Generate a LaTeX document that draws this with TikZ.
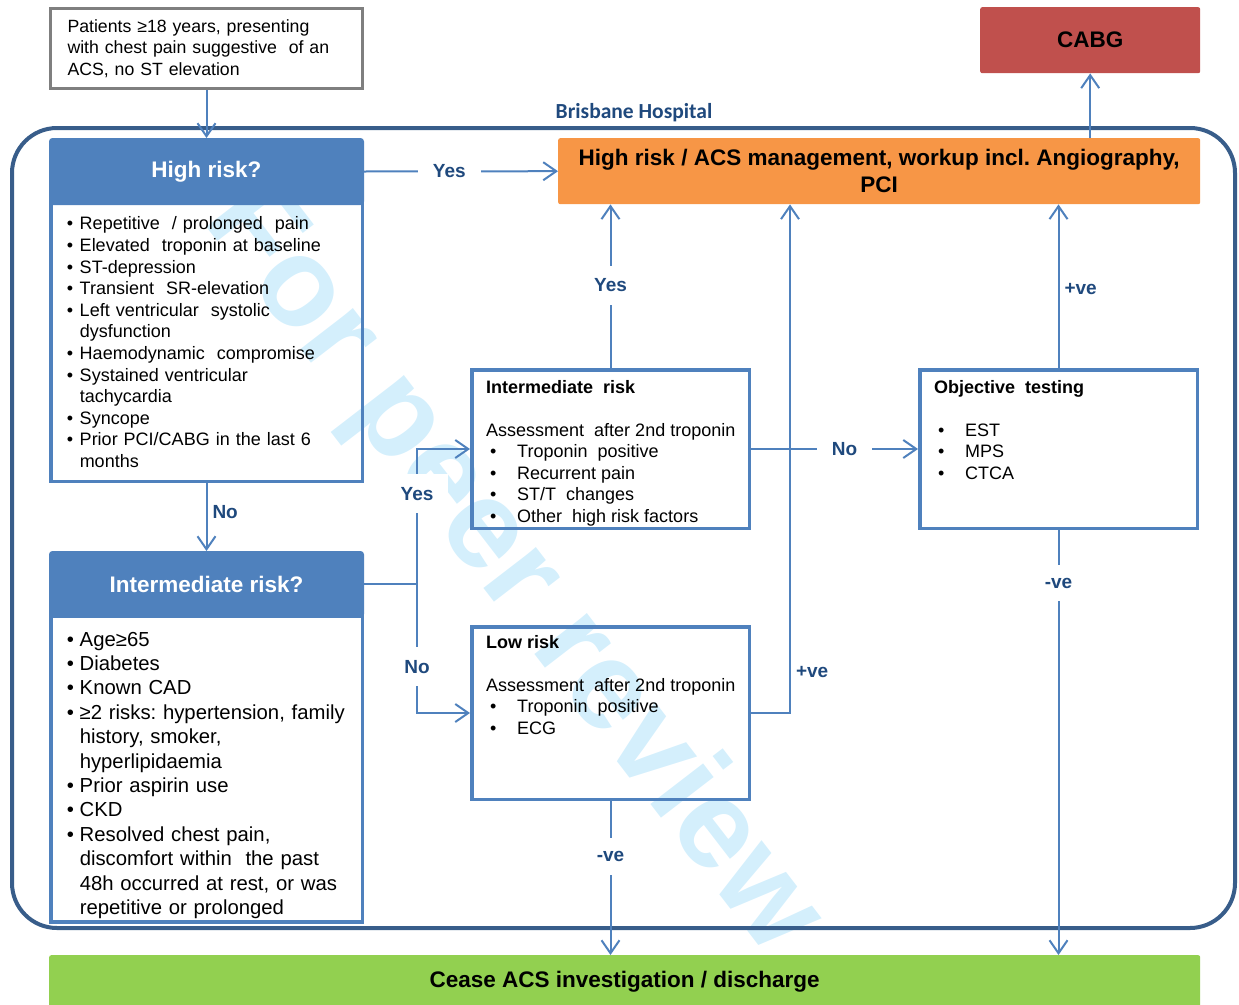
\documentclass[tikz,border=0pt]{standalone}
\usepackage{fontspec}
\setmainfont{Liberation Sans}
\newfontfamily\carlito{Carlito}
\usetikzlibrary{positioning}
\usetikzlibrary{arrows.meta}

\definecolor{hdrblue}{HTML}{4F81BD}
\definecolor{hospblue}{HTML}{385D8A}
\definecolor{lbltext}{HTML}{1F497D}
\definecolor{mgmtorange}{HTML}{F79646}
\definecolor{cabgred}{HTML}{C0504D}
\definecolor{ceasegreen}{HTML}{92D050}
\definecolor{introgray}{HTML}{7F7F7F}
\definecolor{wmcyan}{RGB}{212,239,252}

\newcommand{\itm}{\makebox[13pt][l]{\textbullet}}
\newcommand{\cnt}{\hspace*{13pt}}
\newcommand{\titm}{\makebox[31pt][l]{\hspace{4pt}\textbullet}}

\tikzset{
  conn/.style={draw=hdrblue, line width=2pt},
  arr/.style={conn, -{Straight Barb[length=13pt, width=18pt]}},
  lbl/.style={fill=white, text=lbltext, inner xsep=15pt, inner ysep=13pt,
    font=\bfseries\fontsize{19}{23}\selectfont},
  sidelbl/.style={text=lbltext, inner sep=5pt,
    font=\bfseries\fontsize{19}{23}\selectfont},
  watermark/.style={text=wmcyan, font=\bfseries\fontsize{126}{126}\selectfont},
  hospframe/.style={draw=hospblue, line width=4pt, rounded corners=45pt, anchor=north west},
  hosptitle/.style={text=lbltext, font=\carlito\bfseries\fontsize{21.5}{25}\selectfont},
  introbox/.style={draw=introgray, line width=3pt, anchor=north west, align=left,
    text width=278pt, inner xsep=17pt, minimum height=80pt,
    font=\fontsize{17.7}{21.5}\selectfont},
  header/.style={fill=hdrblue, draw=hdrblue, line width=3.5pt, rounded corners=2pt,
    anchor=north west, minimum width=311.5pt, text=white,
    font=\bfseries\fontsize{22.5}{27}\selectfont},
  listbox/.style={draw=hdrblue, line width=3.5pt, align=left, text width=279.5pt, inner xsep=16pt},
  riskbox/.style={draw=hdrblue, line width=3.5pt, anchor=north west, minimum width=277.5pt},
  boxtext/.style={align=left, anchor=north west, inner sep=0pt,
    font=\fontsize{18}{21.5}\selectfont},
  outbox/.style={anchor=north west, rounded corners=2pt,
    font=\bfseries\fontsize{22.5}{27}\selectfont},
}

\begin{document}
\frenchspacing
\begin{tikzpicture}[x=1pt, y=-1pt]
  \useasboundingbox (0,0) rectangle (1239,1004);

  % watermark, behind everything
  \node[watermark, rotate=-52.4] (wm) at (511,570) {For peer review};

  % hospital frame
  \node[hospframe, minimum width=1223pt, minimum height=800pt] (hosp) at (10,126) {};
  \node[hosptitle] (hosptitle) at (634,113) {Brisbane Hospital};

  \node[introbox] (intro) at (49,7)
    {Patients ≥18 years, presenting\\with chest pain suggestive\ \ of an\\ACS, no ST elevation};

  \node[outbox, fill=cabgred, minimum width=220pt, minimum height=66pt] (cabg) at (980,7) {CABG};
  \node[outbox, fill=mgmtorange, minimum width=642pt, minimum height=66pt, align=center] (mgmt) at (558,138)
    {High risk / ACS management, workup incl. Angiography,\\PCI};
  \node[outbox, fill=ceasegreen, minimum width=1151pt, minimum height=54pt] (cease) at (49,955)
    {Cease ACS investigation / discharge};

  % left column
  \node[header, minimum height=63.5pt] (highq) at (49,138) {High risk?};
  \node[listbox, below=-3.5pt of highq, minimum height=278pt,
    font=\fontsize{18}{21.6}\selectfont] (highlist)
    {\itm Repetitive\ \ / prolonged\ \ pain\\
     \itm Elevated\ \ troponin at baseline\\
     \itm ST-depression\\
     \itm Transient\ \ SR-elevation\\
     \itm Left ventricular\ \ systolic\\
     \cnt dysfunction\\
     \itm Haemodynamic\ \ compromise\\
     \itm Systained ventricular\\
     \cnt tachycardia\\
     \itm Syncope\\
     \itm Prior PCI/CABG in the last 6\\
     \cnt months};

  \node[header, minimum height=63pt] (interq) at (49,551) {Intermediate risk?};
  \node[listbox, below=-3.5pt of interq, minimum height=304pt,
    font=\fontsize{20.3}{24.4}\selectfont] (interlist)
    {\rule{0pt}{27pt}\itm Age≥65\\
     \itm Diabetes\\
     \itm Known CAD\\
     \itm ≥2 risks: hypertension, family\\
     \cnt history, smoker,\\
     \cnt hyperlipidaemia\\
     \itm Prior aspirin use\\
     \itm CKD\\
     \itm Resolved chest pain,\\
     \cnt discomfort within\ \ the past\\
     \cnt 48h occurred at rest, or was\\
     \cnt repetitive or prolonged};

  % assessment boxes
  \node[riskbox, minimum height=158.5pt] (inter) at (470,368) {};
  \node[boxtext] (intertext) at ([xshift=16pt, yshift=-12pt]inter.north west)
    {\textbf{Intermediate\ \ risk}\\[21.5pt]
     Assessment\ \ after 2nd troponin\\
     \titm Troponin\ \ positive\\
     \titm Recurrent pain\\
     \titm ST/T\ \ changes\\
     \titm Other\ \ high risk factors};

  \node[riskbox, minimum height=172.5pt] (low) at (470,625) {};
  \node[boxtext] (lowtext) at ([xshift=16pt, yshift=-10pt]low.north west)
    {\textbf{Low risk}\\[21.5pt]
     Assessment\ \ after 2nd troponin\\
     \titm Troponin\ \ positive\\
     \titm ECG};

  \node[riskbox, minimum height=158.5pt] (obj) at (918,368) {};
  \node[boxtext] (objtext) at ([xshift=16pt, yshift=-12pt]obj.north west)
    {\textbf{Objective\ \ testing}\\[21.5pt]
     \titm EST\\
     \titm MPS\\
     \titm CTCA};

  % connectors
  \coordinate (split) at ([xshift=53pt]interq.east);
  \coordinate (pvetop) at (790,0 |- mgmt.south);

  \draw[arr] (intro.south) -- (highq.north);
  \draw[arr] (highq.east) -- node[lbl, pos=0.44] (yeshigh) {Yes} (mgmt.west);
  \draw[arr] (highlist.south) -- node[sidelbl, right, pos=0.43] (nohigh) {No} (interq.north);
  \draw[conn] (interq.east) -- (split);
  \draw[arr] (split) |- node[lbl, pos=0.335] (yesinter) {Yes} (inter.west);
  \draw[arr] (split) |- node[lbl, pos=0.32] (nolow) {No} (low.west);
  \draw[arr] (inter.north) -- node[lbl, pos=0.506] (yesmgmt) {Yes} (inter.north |- mgmt.south);
  \draw[arr] (inter.east) -- node[lbl, pos=0.56] (noobj) {No} (obj.west);
  \draw[arr] (low.east) -| node[sidelbl, right, pos=0.54] (pvelow) {+ve} (pvetop);
  \draw[arr] (obj.north) -- node[sidelbl, right, pos=0.48] (pveobj) {+ve} (obj.north |- mgmt.south);
  \draw[arr] (obj.south) -- node[lbl, pos=0.125] (nveobj) {-ve} (obj.south |- cease.north);
  \draw[arr] (low.south) -- node[lbl, pos=0.36] (nvelow) {-ve} (low.south |- cease.north);
  \draw[arr] (mgmt.north -| cabg.south) -- (cabg.south);

\end{tikzpicture}
\end{document}
